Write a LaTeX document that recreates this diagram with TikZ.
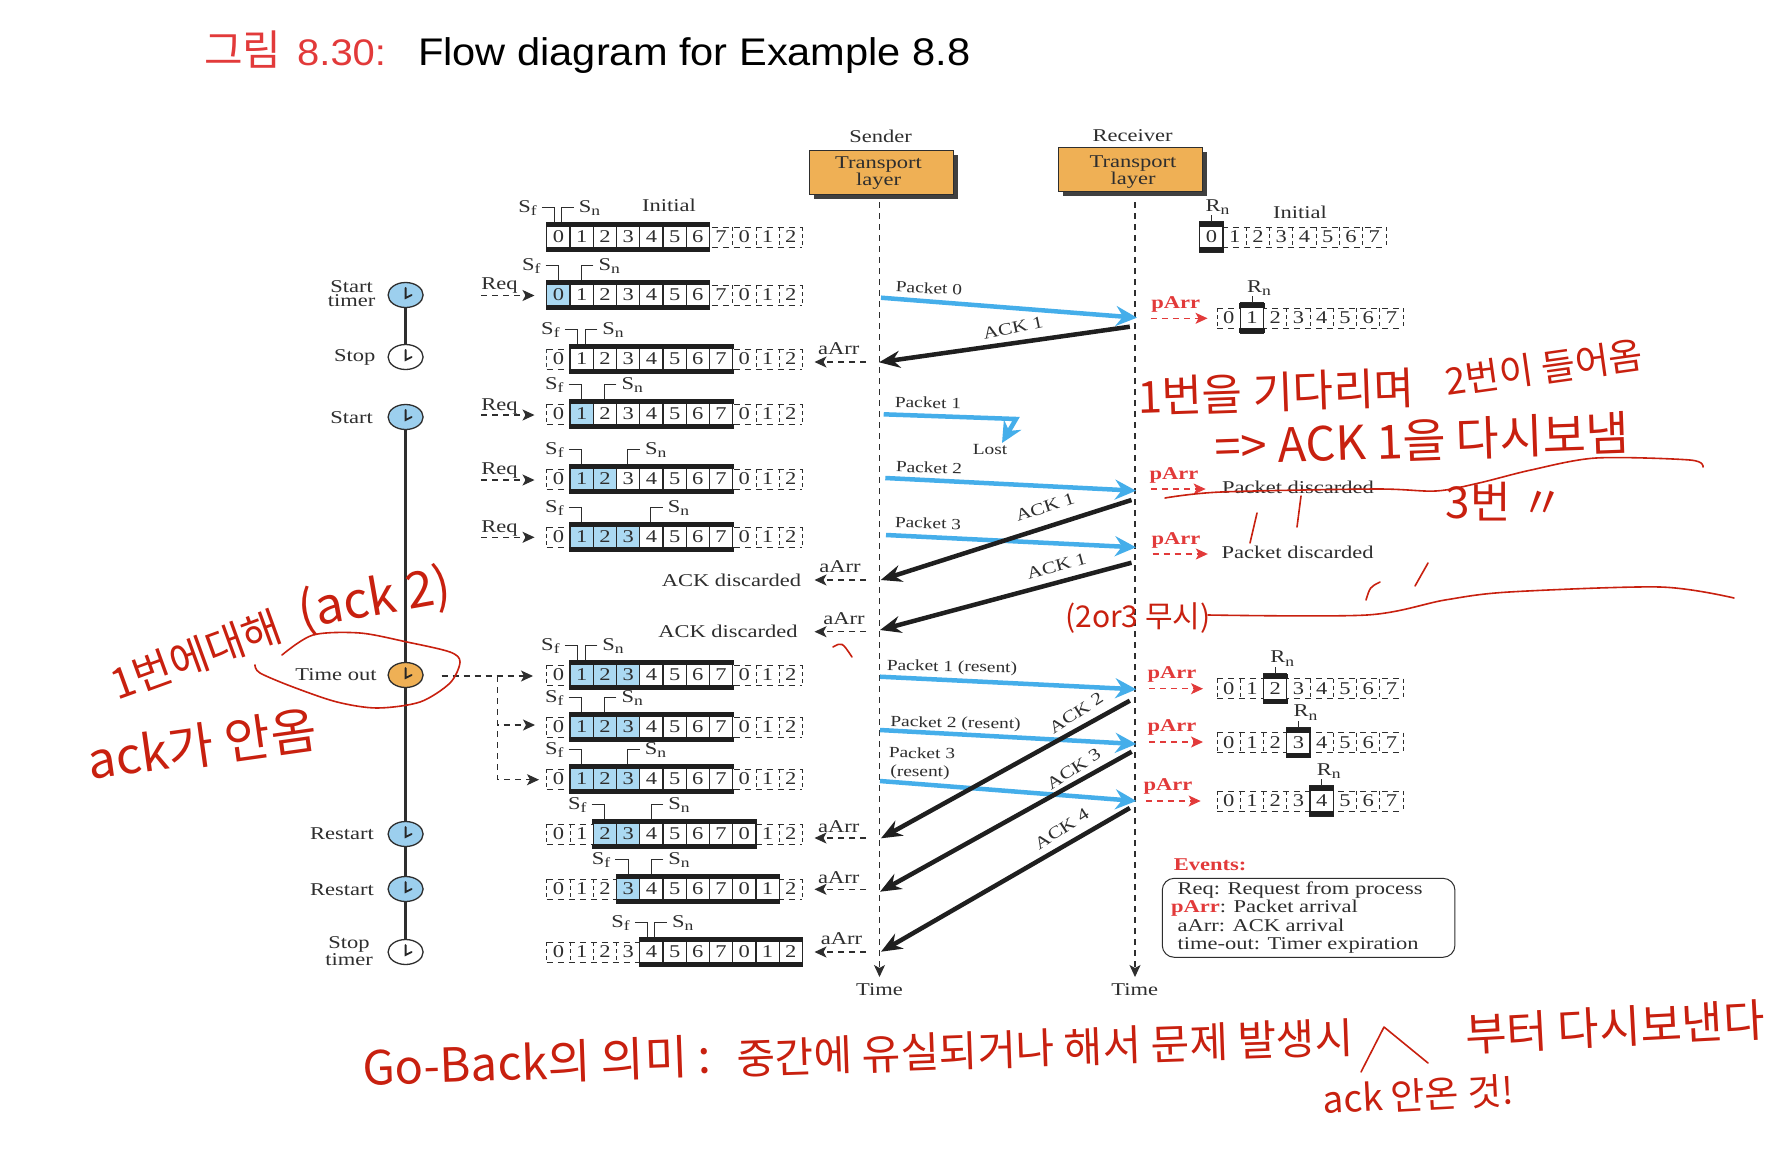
\documentclass[tikz,border=0pt]{standalone}
\usepackage{fontspec}
\setmainfont[FakeStretch=1.25]{Liberation Serif}
\newfontfamily\titlefont[FakeStretch=1.08]{Liberation Sans}
\newfontfamily\hangul{Noto Sans CJK KR}
\usetikzlibrary{arrows.meta,calc,positioning,shadows,shapes.geometric}
\definecolor{inkdark}{HTML}{2E2E2E}
\definecolor{boxorange}{HTML}{EFB055}
\definecolor{cellblue}{HTML}{ABD9F2}
\definecolor{clockblue}{HTML}{9CCFEE}
\definecolor{packetblue}{HTML}{45AEEA}
\definecolor{evred}{HTML}{E23A3A}
\definecolor{penred}{HTML}{C8200F}
\tikzset{
  every node/.style={font=\fontsize{18}{14}\selectfont, text=inkdark, inner sep=0pt},
  dashline/.style={draw=inkdark, line width=1.1pt, dash pattern=on 6pt off 5pt},
  eventarrow/.style={dashline, -{Stealth[length=12pt,width=11pt,inset=3pt]}},
  pointer/.style={draw=inkdark, line width=0.8pt},
  packet/.style={draw=packetblue, line width=4.5pt, -{Stealth[length=21pt,width=20pt,inset=7pt]}},
  ackline/.style={draw=black!88, line width=4.5pt, -{Stealth[length=21pt,width=17pt,inset=7pt]}},
  clock/.style={ellipse, draw=inkdark, line width=1.3pt, minimum width=35pt, minimum height=25pt},
  tbox/.style={draw=inkdark, fill=boxorange, minimum width=144pt, minimum height=44pt,
    drop shadow={shadow xshift=4.5pt, shadow yshift=-4.5pt, fill=black!75, opacity=1}},
  timeline/.style={draw=inkdark, line width=2.6pt},
  pen/.style={draw=penred, line width=1.6pt, line cap=round, line join=round},
  pentext/.style={text=penred, font=\hangul\fontsize{#1}{#1}\selectfont},
  small/.style={font=\fontsize{15.5}{14}\selectfont},
  acklabel/.style={font=\fontsize{17}{14}\selectfont},
}
\newcommand{\winlabel}[2]{#1\raisebox{-3.5pt}{\fontsize{14}{14}\selectfont #2}}
\def\cellx{546.8}
\def\cellw{23.24}
\def\recw{23.27}
\begin{document}
\begin{tikzpicture}[x=1pt, y=-1pt]
\path[fill=white,use as bounding box] (0,0) rectangle (1776,1172);
% Title
\node[anchor=base west, font=\hangul\fontsize{42}{42}\selectfont, text=evred] (titlea) at (204,65.7) {그림};
\node[anchor=base west, font=\titlefont\fontsize{37}{37}\selectfont, text=evred] (titleb) at (297,65.7) {8.30:};
\node[anchor=base west, font=\titlefont\fontsize{38.5}{38.5}\selectfont, text=black] (titlec) at (418,65.7) {Flow diagram for Example 8.8};
% Transport layers
\node (sendername) at (880.7,136) {Sender};
\node (recvname) at (1132.6,136) {Receiver};
\node[tbox] (sbox) at (881.4,172) {};
\node[tbox] (rbox) at (1130.4,169) {};
\node[align=center] (stext) at (878.5,173) {Transport\\layer};
\node[align=center] (rtext) at (1133,172) {Transport\\layer};
% Time lines
\coordinate (slinea) at (879.5,202);
\coordinate (slineb) at (879.5,977);
\coordinate (rlinea) at (1135,202);
\coordinate (rlineb) at (1135,977);
\draw[eventarrow] (slinea) -- (slineb);
\draw[eventarrow] (rlinea) -- (rlineb);
\node (stime) at (879.5,990) {Time};
\node (rtime) at (1134.7,990) {Time};
% Sender windows: name/row/window from/to/blue from/to/Sf/Sn
\foreach \rw/\y/\wa/\wb/\ba/\bb/\pf/\pn in {
  a/237/0/7/0/0/554.5/561.4, b/295/0/7/0/1/558.3/581.3, c/359/1/8/0/0/577.4/585.1,
  d/414/1/8/1/2/581.3/604.2, e/479/1/8/1/3/581.4/627.7, f/537/1/8/1/4/581.4/650.5,
  g/675/1/8/1/4/577.4/585.1, h/727/1/8/1/4/581.3/604.2, i/779/1/8/1/4/581.3/627.6,
  j/834/2/9/2/4/604.2/650.9, k/889/3/10/3/4/628/650.9, l/952/4/11/4/4/647.5/654.7} {
  \foreach \i in {0,...,11}
    \draw[dashline, line width=0.9pt, dash pattern=on 4pt off 3pt] (\cellx+\i*\cellw,\y-10) -- (\cellx+\i*\cellw,\y+10);
  \draw[dashline, line width=0.9pt] (\cellx,\y-10) -- (\cellx+11*\cellw,\y-10);
  \draw[dashline, line width=0.9pt] (\cellx,\y+10) -- (\cellx+11*\cellw,\y+10);
  \fill[white] (\cellx+\wa*\cellw,\y-10) rectangle (\cellx+\wb*\cellw,\y+10);
  \fill[cellblue] (\cellx+\ba*\cellw,\y-10) rectangle (\cellx+\bb*\cellw,\y+10);
  \foreach \i in {\wa,...,\wb}
    \draw[draw=black!85, line width=1.3pt] (\cellx+\i*\cellw,\y-15) -- (\cellx+\i*\cellw,\y+15);
  \fill[black!88] (\cellx+\wa*\cellw-1,\y-15) rectangle (\cellx+\wb*\cellw+1,\y-10);
  \fill[black!88] (\cellx+\wa*\cellw-1,\y+10) rectangle (\cellx+\wb*\cellw+1,\y+15);
  \foreach \i/\v in {0/0,1/1,2/2,3/3,4/4,5/5,6/6,7/7,8/0,9/1,10/2}
    \node (w\rw\i) at (\cellx+\i*\cellw+0.5*\cellw,\y) {\v};
  \node (sf\rw) at (\pf-27,\y-29) {\winlabel{S}{f}};
  \node (sn\rw) at (\pn+28,\y-29) {\winlabel{S}{n}};
  \coordinate (fa\rw) at (\pf,\y-15);
  \coordinate (na\rw) at (\pn,\y-15);
  \draw[pointer] ($(sf\rw.east)+(5,-1)$) -| (fa\rw);
  \draw[pointer] ($(sn\rw.west)+(-5,-1)$) -| (na\rw);
}
\node (initials) at (669,205) {Initial};
% Receiver windows: name/left/row/cell/Rn offset
\foreach \rw/\bx/\y/\c/\off in {
  a/1199.8/237/0/6, b/1217/318/1/7, c/1217/688.5/2/7, d/1217/742.5/3/7, e/1217/801/4/7} {
  \foreach \i in {0,...,8}
    \draw[dashline, line width=0.9pt, dash pattern=on 4pt off 3pt] (\bx+\i*\recw,\y-10) -- (\bx+\i*\recw,\y+10);
  \draw[dashline, line width=0.9pt] (\bx,\y-10) -- (\bx+8*\recw,\y-10);
  \draw[dashline, line width=0.9pt] (\bx,\y+10) -- (\bx+8*\recw,\y+10);
  \fill[white] (\bx+\c*\recw,\y-10) rectangle (\bx+\c*\recw+\recw,\y+10);
  \draw[draw=black!85, line width=1.3pt] (\bx+\c*\recw,\y-15) rectangle (\bx+\c*\recw+\recw,\y+15);
  \fill[black!88] (\bx+\c*\recw-1,\y-15) rectangle (\bx+\c*\recw+\recw+1,\y-10);
  \fill[black!88] (\bx+\c*\recw-1,\y+10) rectangle (\bx+\c*\recw+\recw+1,\y+15);
  \foreach \i in {0,...,7}
    \node (v\rw\i) at (\bx+\i*\recw+0.5*\recw,\y) {\i};
  \node (rn\rw) at (\bx+\c*\recw+0.5*\recw+\off,\y-30) {\winlabel{R}{n}};
  \coordinate (rt\rw) at (\bx+\c*\recw+0.5*\recw,\y-15);
  \draw[pointer] (rt\rw) -- ++(0,-7);
}
\node (initialr) at (1300,212.7) {Initial};
% Timer clocks
\foreach \nm/\y/\fillc in {cb/295/clockblue, cc/357/white, cd/417/clockblue, ce/675/boxorange,
  cf/834/clockblue, cg/889/clockblue, ch/952/white}
  \node[clock, fill=\fillc] (\nm) at (405.6,\y) {};
\draw[timeline] (cb) -- (cc);
\draw[timeline] (cd) -- (ce);
\draw[timeline] (ce) -- (cf);
\draw[timeline] (cf) -- (cg);
\draw[timeline] (cg) -- (ch);
\foreach \nm in {cb,cc,cd,ce,cf,cg,ch}
  \draw[draw=black!85, line width=1.8pt, line cap=round] ($(\nm)+(0,-7)$) -- ($(\nm)+(0,3)$) -- ($(\nm)+(6,0)$);
\node[align=center] (tstart) at (351.7,294) {Start\\timer};
\node (tstop) at (354.7,357) {Stop};
\node (tstartb) at (351.7,418) {Start};
\node (ttimeout) at (336,675) {Time out};
\node (trestart) at (342,834) {Restart};
\node (trestartb) at (342,890) {Restart};
\node[align=center] (tstoptimer) at (349,951) {Stop\\timer};
% Req events
\foreach \nm/\y/\ly in {a/295.5/286, b/415/406.5, c/480/470.5, d/537.3/528.5} {
  \node (req\nm) at (499.5,\ly) {Req};
  \coordinate (reqa\nm) at (481,\y);
  \coordinate (reqb\nm) at (534.5,\y);
  \draw[eventarrow] (reqa\nm) -- (reqb\nm);
}
% aArr events
\foreach \nm/\lx/\ly/\y in {a/838.8/349/362, b/840/567/580, c/844/619/631.7, d/838.8/826.7/838, e/838.8/878/889.3, f/841.5/939/952} {
  \node (aarr\nm) at (\lx,\ly) {aArr};
  \coordinate (aarra\nm) at (866,\y);
  \coordinate (aarrb\nm) at (814.5,\y);
  \draw[eventarrow] (aarra\nm) -- (aarrb\nm);
}
\node (ackdisa) at (731.5,580) {ACK discarded};
\node (ackdisb) at (728,631.7) {ACK discarded};
% Time out branches
\coordinate (toa) at (441.7,676);
\coordinate (tob) at (533,676);
\coordinate (toc) at (497.7,676);
\coordinate (tod) at (535,725);
\coordinate (toe) at (539,779.7);
\draw[eventarrow] (toa) -- (tob);
\draw[eventarrow] (toc) |- (tod);
\draw[eventarrow] (toc) |- (toe);
% pArr events
\foreach \nm/\lx/\ly/\xa/\xb/\y in {a/1175.7/304/1150.8/1207.5/318.3, b/1174/475/1150.9/1205.6/489,
  c/1176/540/1152.6/1207.8/554, d/1172/674/1149/1203/688.7, e/1172/727.3/1149/1203/742, f/1168/786/1145.8/1200.6/801} {
  \node[text=evred, font=\fontsize{18}{14}\selectfont\bfseries] (parr\nm) at (\lx,\ly) {pArr};
  \coordinate (parra\nm) at (\xa,\y);
  \coordinate (parrb\nm) at (\xb,\y);
  \draw[eventarrow, draw=evred] (parra\nm) -- (parrb\nm);
}
\node (pdisa) at (1298,487) {Packet discarded};
\node (pdisb) at (1297.6,552) {Packet discarded};
% Packets
\foreach \nm/\xa/\ya/\xb/\yb in {pka/881/297.7/1137/317.7, pkc/885.3/478/1136/490.7, pkd/886/535/1136/547.3,
  pke/880/676.7/1136.3/689.3, pkf/880/730/1136.3/744, pkg/880/781/1136.3/801} {
  \coordinate (\nm a) at (\xa,\ya);
  \coordinate (\nm b) at (\xb,\yb);
  \draw[packet] (\nm a) -- (\nm b);
}
\coordinate (pkba) at (883.7,414.3);
\coordinate (pkbb) at (1016,419);
\coordinate (pkbc) at (1002,443);
\draw[packet, line join=miter] (pkba) -- (pkbb) -- (pkbc);
\foreach \nm/\x/\y/\a/\txt in {lpa/929/288/-3/{Packet 0}, lpb/928/402.7/-1/{Packet 1}, lpc/929/467.7/-2/{Packet 2},
  lpd/928/523/-2/{Packet 3}, lpe/952/667.7/-1/{Packet 1 (resent)}, lpf/955.6/724/-1/{Packet 2 (resent)},
  lpg/922/753/-1/{Packet 3}, lph/920/772.7/-1/{(resent)}, lost/990/449/0/{Lost}}
  \node[small, rotate=\a] (\nm) at (\x,\y) {\txt};
% ACKs
\foreach \nm/\xa/\ya/\xb/\yb in {aka/1129.8/326.7/879/362.3, akb/1131.5/500/880.7/580, akc/1131.5/562.7/880/630,
  akd/1129.8/700.7/881/838.3, ake/1131.7/751.7/880/891.7, akf/1129.8/808/881/951.7} {
  \coordinate (\nm a) at (\xa,\ya);
  \coordinate (\nm b) at (\xb,\yb);
  \draw[ackline] (\nm a) -- (\nm b);
}
\foreach \nm/\x/\y/\a/\txt in {laa/1013/328/12/{ACK 1}, lab/1045/507.3/18/{ACK 1}, lac/1056.6/566/15/{ACK 1},
  lad/1076/713/33/{ACK 2}, lae/1073.5/769/33/{ACK 3}, laf/1061.7/829/33/{ACK 4}}
  \node[acklabel, rotate=\a] (\nm) at (\x,\y) {\txt};
% Events box
\node[text=evred, font=\fontsize{18}{14}\selectfont\bfseries] (evtitle) at (1210,865) {Events:};
\node[draw=inkdark, line width=1pt, rounded corners=12pt, minimum width=292.7pt, minimum height=79pt] (evbox) at (1308.6,917.8) {};
\node[anchor=west] (eva) at (1177.4,890.3) {Req: Request from process};
\node[anchor=west] (evb) at (1170.9,907.7) {{\color{evred}\bfseries pArr}: Packet arrival};
\node[anchor=west] (evc) at (1177.4,925.7) {aArr: ACK arrival};
\node[anchor=west] (evd) at (1177.4,945.5) {time-out: Timer expiration};
% Handwritten notes
\node[pentext=42, rotate=20] (nta) at (196,655) {1번에대해};
\node[pentext=50, rotate=10] (ntb) at (375,600) {(ack 2)};
\node[pentext=50, rotate=8] (ntc) at (202,745) {ack가 안옴};
\node[pentext=44, rotate=2] (ntd) at (1276,392) {1번을 기다리며};
\node[pentext=37, rotate=8] (nte) at (1544,368) {2번이 들어옴};
\node[pentext=47, rotate=2] (ntf) at (1422,440) {=> ACK 1을 다시보냄};
\node[pentext=44] (ntg) at (1505,502) {3번 〃};
\node[pentext=30] (nth) at (1138,618) {(2or3 무시)};
\node[pentext=47, rotate=2] (nti) at (537,1062) {Go-Back의 의미 :};
\node[pentext=42, rotate=2] (ntj) at (1045,1048) {중간에 유실되거나 해서 문제 발생시};
\node[pentext=45, rotate=3] (ntk) at (1615,1027) {부터 다시보낸다};
\node[pentext=37, rotate=3] (ntl) at (1418,1095) {ack 안온 것!};
% Pen strokes
\draw[pen] plot[smooth] coordinates {(282,655) (313,635) (360,633) (407,642) (450,652) (460,662) (450,683) (420,702) (377,708) (337,702) (293,687) (260,673) (255,665)};
\draw[pen] plot[smooth] coordinates {(1165,498) (1221,492) (1376,489) (1436,491) (1479,483) (1531,470) (1596,458) (1690,460) (1703,467)};
\draw[pen] plot[smooth] coordinates {(1208,615) (1367,615) (1445,600) (1509,592) (1660,587) (1734,598)};
\draw[pen] (1257,513) -- (1250,543);
\draw[pen] (1301,496) -- (1297,527);
\draw[pen] (1380,582) .. controls (1370,587) .. (1366,600);
\draw[pen] (1428,563) -- (1415,586);
\draw[pen] (833,647) .. controls (842,642) .. (852,657);
\draw[pen] (1361,1072) -- (1384,1027) -- (1428,1063);
\end{tikzpicture}
\end{document}
